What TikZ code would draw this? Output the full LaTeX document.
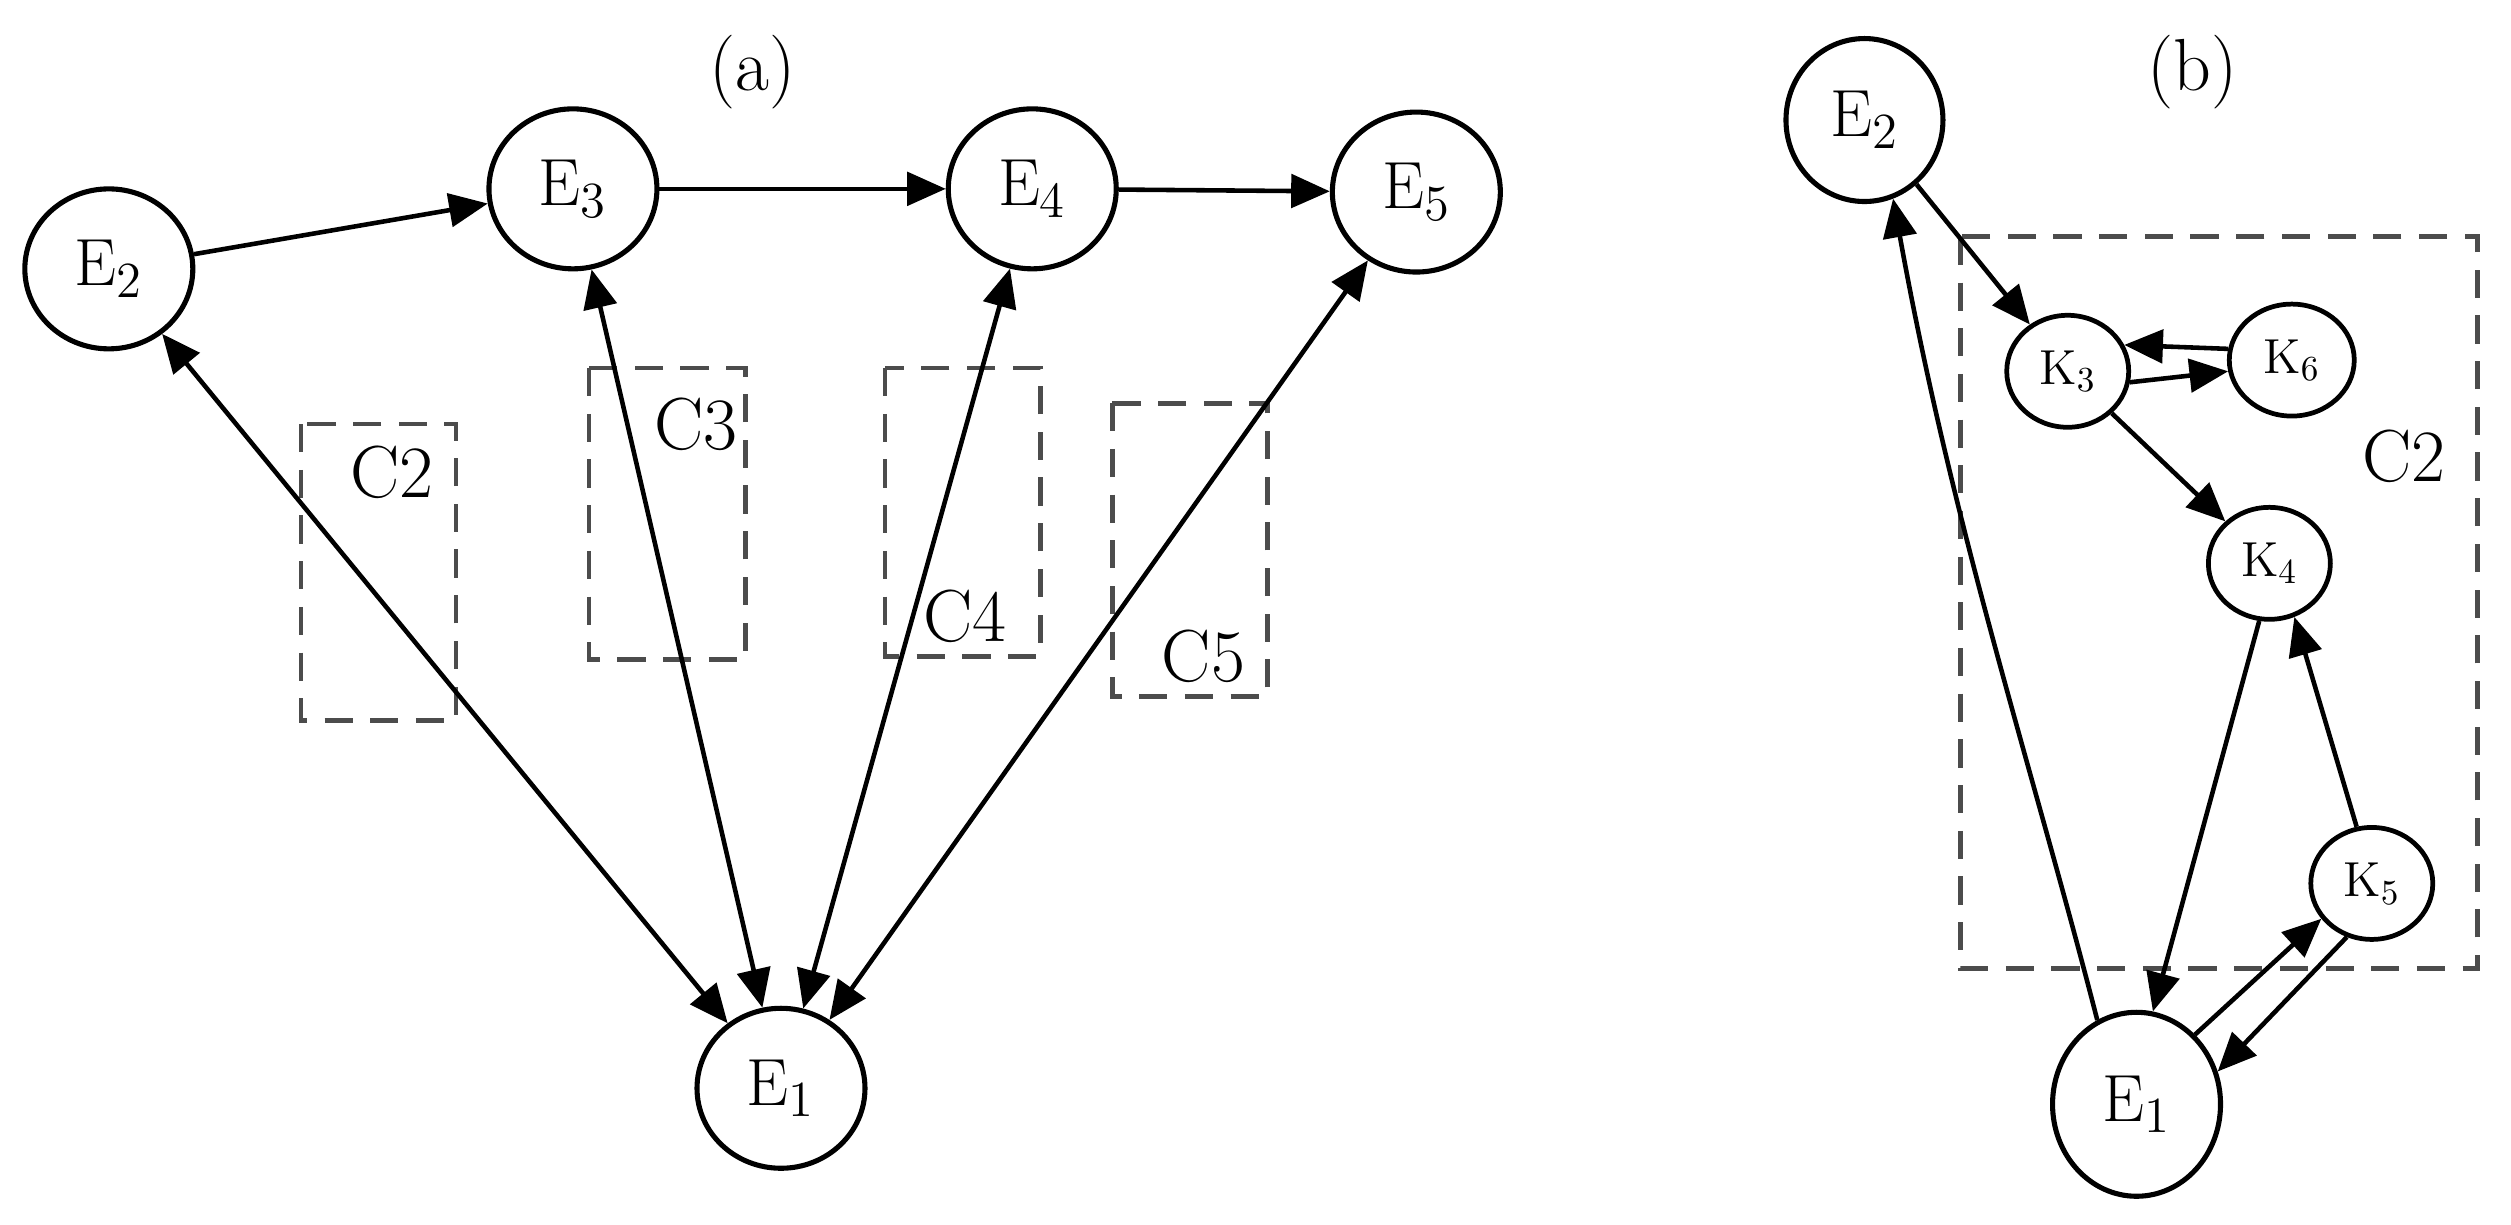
\documentclass[tikz,border=0pt]{standalone}
\usetikzlibrary{arrows.meta,shapes.geometric}
\begin{document}
\begin{tikzpicture}[x=0.016cm,y=-0.016cm,
 en/.style={ellipse,draw,line width=1.45pt,inner sep=0pt,font=\fontsize{19}{19}\selectfont},
 kn/.style={ellipse,draw,line width=1.35pt,inner sep=0pt,minimum height=1.12cm,font=\fontsize{14}{14}\selectfont},
 box/.style={draw=black!70,dash pattern=on 8pt off 5pt,line width=1.35pt},
 ar/.style={-{Triangle[length=11pt,width=9.5pt]},line width=1.3pt},
 dar/.style={{Triangle[length=11pt,width=9.5pt]}-{Triangle[length=11pt,width=9.5pt]},line width=1.3pt},
 lab/.style={font=\fontsize{21}{21}\selectfont}]
\useasboundingbox (0,0) rectangle (1569,765);
% (a)
\node[lab] (ta) at (470,45) {(a)};
\draw[box] (188,265) rectangle (285,450);
\draw[box] (368,230) rectangle (466,412);
\draw[box] (553,230) rectangle (650,410);
\draw[box] (695,252) rectangle (792,435);
\node[lab] (c2) at (245,295) {C2};
\node[lab] (c3) at (435,265) {C3};
\node[lab] (c4) at (603,385) {C4};
\node[lab] (c5) at (752,410) {C5};
\node[en,minimum width=1.68cm,minimum height=1.6cm] (aE2) at (68,168) {E$_2$};
\node[en,minimum width=1.68cm,minimum height=1.6cm] (aE3) at (358,118) {E$_3$};
\node[en,minimum width=1.68cm,minimum height=1.6cm] (aE4) at (645,118) {E$_4$};
\node[en,minimum width=1.68cm,minimum height=1.6cm] (aE5) at (885,120) {E$_5$};
\node[en,minimum width=1.68cm,minimum height=1.6cm] (aE1) at (488,680) {E$_1$};
\draw[ar] (aE2) -- (aE3);
\draw[ar] (aE3) -- (aE4);
\draw[ar] (aE4) -- (aE5);
\draw[dar] (aE2) -- (aE1);
\draw[dar] (aE3) -- (aE1);
\draw[dar] (aE4) -- (aE1);
\draw[dar] (aE5) -- (aE1);
% (b)
\node[lab] (tb) at (1370,45) {(b)};
\draw[box] (1225,148) rectangle (1548,605);
\node[lab] (bc2) at (1502,285) {C2};
\node[en,minimum width=1.57cm,minimum height=1.63cm] (bE2) at (1165,75) {E$_2$};
\node[en,minimum width=1.68cm,minimum height=1.84cm] (bE1) at (1335,690) {E$_1$};
\node[kn,minimum width=1.22cm] (K3) at (1292,232) {K$_3$};
\node[kn,minimum width=1.25cm] (K6) at (1432,225) {K$_6$};
\node[kn,minimum width=1.22cm] (K4) at (1418,352) {K$_4$};
\node[kn,minimum width=1.22cm] (K5) at (1482,552) {K$_5$};
\draw[ar] (bE2) -- (K3);
\draw[ar] (K6.170) -- (K3.25);
\draw[ar] (K3.-10) -- (K6.-170);
\draw[ar] (K3) -- (K4);
\draw[ar] (K4.-100) -- (bE1.80);
\draw[ar] (K5.105) -- (K4.-65);
\draw[ar] (bE1.50) -- (K5.-145);
\draw[ar] (K5.-115) -- (bE1.22);
\draw[ar] (bE1.115) .. controls (1270,480) and (1220,330) .. (bE2.-70);
\end{tikzpicture}
\end{document}
